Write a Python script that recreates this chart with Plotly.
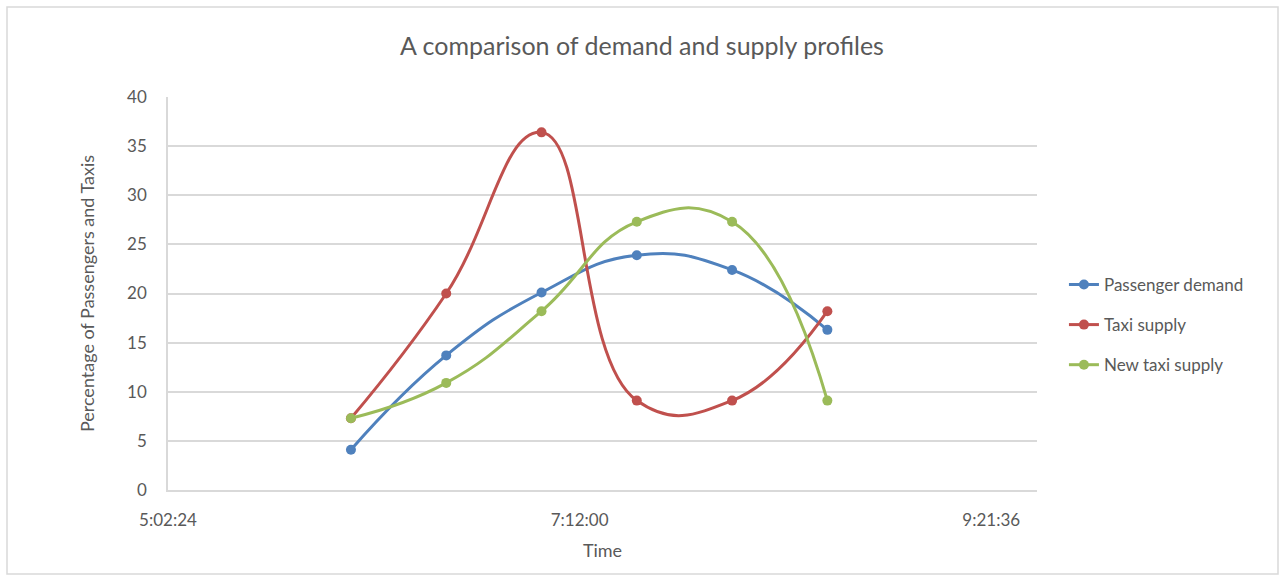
import plotly.graph_objects as go

# Observation times (hh:mm) and the share of each quantity at that time (%)
times = ["6:00", "6:30", "7:00", "7:30", "8:00", "8:30"]
passenger_demand = [4.1, 13.7, 20.1, 23.9, 22.4, 16.3]
taxi_supply = [7.3, 20.0, 36.4, 9.1, 9.1, 18.2]
new_taxi_supply = [7.3, 10.9, 18.2, 27.3, 27.3, 9.1]

series_names = ["Passenger demand", "Taxi supply", "New taxi supply"]
series_colors = ["#4F81BD", "#C0504D", "#9BBB59"]

x_tick_labels = ["5:02:24", "7:12:00", "9:21:36"]
x_range_labels = ["5:02:24", "9:36:00"]

BASE_DAY = "1900-01-01"


def to_stamp(t):
    parts = t.split(":")
    while len(parts) < 3:
        parts.append("00")
    h, m, s = (int(p) for p in parts)
    return f"{BASE_DAY} {h:02d}:{m:02d}:{s:02d}"


xs = [to_stamp(t) for t in times]

fig = go.Figure()
for name, color, values in zip(series_names, series_colors,
                               [passenger_demand, taxi_supply, new_taxi_supply]):
    fig.add_trace(go.Scatter(
        x=xs, y=values, name=name, legendgroup=name,
        mode="lines+markers",
        line=dict(color=color, width=3, shape="spline", smoothing=1.3),
        marker=dict(color=color, size=10),
    ))

TEXT = "#595959"
GRID = "#D9D9D9"
FONT = "Lato"

fig.update_layout(
    width=1279, height=575,
    margin=dict(l=168, r=242, t=97, b=85),
    paper_bgcolor="white", plot_bgcolor="white",
    font=dict(family=FONT, color=TEXT, size=16),
    title=dict(
        text="A comparison of demand and supply profiles",
        x=642 / 1279, xref="container", xanchor="center",
        y=1 - 46 / 575, yref="container", yanchor="middle",
        font=dict(family=FONT, size=25, color=TEXT),
    ),
    legend=dict(
        x=1.031, xanchor="left", y=0.42, yanchor="middle",
        font=dict(family=FONT, size=17, color=TEXT),
        tracegroupgap=15, bgcolor="rgba(0,0,0,0)",
    ),
    showlegend=True,
)

fig.update_xaxes(
    type="date",
    range=[to_stamp(x_range_labels[0]), to_stamp(x_range_labels[1])],
    tickvals=[to_stamp(t) for t in x_tick_labels],
    ticktext=x_tick_labels,
    showgrid=False, zeroline=False,
    showline=True, linecolor=GRID, linewidth=1.5,
    ticks="", ticklabelstandoff=14,
    tickfont=dict(family=FONT, size=17, color=TEXT),
    title=dict(text="Time", standoff=15, font=dict(family=FONT, size=18, color=TEXT)),
)

fig.update_yaxes(
    range=[0, 40], dtick=5, tick0=0,
    showgrid=True, gridcolor=GRID, gridwidth=1.5,
    zeroline=False,
    showline=True, linecolor=GRID, linewidth=1.5,
    ticks="", ticklabelstandoff=16,
    tickfont=dict(family=FONT, size=17, color=TEXT),
    title=dict(text="Percentage of Passengers and Taxis", standoff=28,
               font=dict(family=FONT, size=18, color=TEXT)),
)

# Outer chart frame
fig.add_shape(
    type="rect", xref="paper", yref="paper",
    x0=(7 - 168) / 869, x1=(1278 - 168) / 869,
    y0=(490 - 574) / 393, y1=(490 - 7) / 393,
    line=dict(color=GRID, width=1.5), fillcolor="rgba(0,0,0,0)", layer="below",
)

fig.write_html("out.html")
